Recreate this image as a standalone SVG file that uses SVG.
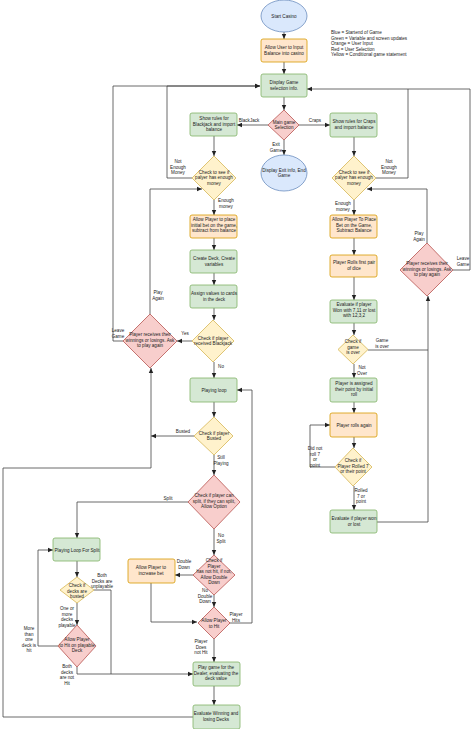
<svg xmlns="http://www.w3.org/2000/svg" width="474" height="729" viewBox="0 0 474 729">
<style>
text{font-family:"Liberation Sans",Arial,sans-serif;font-size:4.6px;fill:#222;text-anchor:middle}
.l{text-anchor:start}
.g{fill:#d5e8d4;stroke:#82b366;stroke-width:0.8}
.o{fill:#ffe6cc;stroke:#d79b00;stroke-width:0.8}
.r{fill:#f8cecc;stroke:#b85450;stroke-width:0.8}
.y{fill:#fff2cc;stroke:#d6b656;stroke-width:0.8}
.b{fill:#dae8fc;stroke:#6c8ebf;stroke-width:0.8}
.e{fill:none;stroke:#444;stroke-width:0.8;stroke-linejoin:round;marker-end:url(#a)}
.n{fill:none;stroke:#444;stroke-width:0.8;stroke-linejoin:round}
.el{fill:#fff}
</style>
<defs><marker id="a" markerWidth="6" markerHeight="6" refX="5" refY="3" orient="auto" markerUnits="userSpaceOnUse"><path d="M0,0.8 L5,3 L0,5.2z" fill="#222"/></marker></defs>
<rect width="474" height="729" fill="#fff"/>
<g id="legend"><text class="l" x="331" y="34">Blue = Startend of Game</text><text class="l" x="331" y="39.5">Green =  Variable and screen updates</text><text class="l" x="331" y="45">Orange = User Input</text><text class="l" x="331" y="50.5">Red = User Selection</text><text class="l" x="331" y="56">Yellow = Conditional game statement</text></g>
<g id="connectors">
<path class="e" d="M284,32 V39"/>
<path class="e" d="M284,62 V74"/>
<path class="e" d="M284,97 V110"/>
<path class="e" d="M268,125 H237"/>
<path class="e" d="M299,125 H330"/>
<path class="e" d="M284,140 V155"/>
<path class="e" d="M214,136 V156"/>
<path class="e" d="M354,137 V156"/>
<path class="e" d="M192,178 H167 V86 H260"/>
<path class="e" d="M376,178 H408 V89 H307"/>
<path class="e" d="M214,200 V215"/>
<path class="e" d="M354,200 V215"/>
<path class="e" d="M214,238 V250"/>
<path class="e" d="M214,273 V285"/>
<path class="e" d="M214,308 V320"/>
<path class="e" d="M192,341 H177"/>
<path class="e" d="M123,341 H113 V86 H260"/>
<path class="e" d="M150,314 V189 H202"/>
<path class="e" d="M214,362 V378"/>
<path class="e" d="M214,402 V417"/>
<path class="e" d="M194,436 H151"/>
<path class="e" d="M193,717 H3 V468 H151 V368"/>
<path class="e" d="M214,455 V475"/>
<path class="e" d="M188,502 H77 V538"/>
<path class="e" d="M214,529 V555"/>
<path class="e" d="M193,575 H175"/>
<path class="e" d="M151,583 V622 H197"/>
<path class="e" d="M214,595 V607"/>
<path class="e" d="M229,623 H252 V390 H237"/>
<path class="e" d="M214,639 V662"/>
<path class="e" d="M214,686 V705"/>
<path class="e" d="M77,561 V577"/>
<path class="e" d="M94,590 H111 V674 H193"/>
<path class="e" d="M77,603 V625"/>
<path class="e" d="M58,646 H38 V550 H53"/>
<path class="n" d="M77,667 V674 H111"/>
<path class="e" d="M354,238 V255"/>
<path class="e" d="M354,277 V300"/>
<path class="e" d="M354,323 V335"/>
<path class="e" d="M354,364 V378"/>
<path class="e" d="M354,402 V413"/>
<path class="e" d="M354,437 V448"/>
<path class="e" d="M335,467 H310 V425 H330"/>
<path class="e" d="M354,486 V510"/>
<path class="e" d="M377,522 H428 V296"/>
<path class="n" d="M368,350 H428"/>
<path class="e" d="M427,243 V189 H367"/>
<path class="n" d="M453,270 H470 V89 H408"/>
</g>
<g id="edge-labels">
<rect class="el" x="240" y="117" width="18" height="6"/><text x="249" y="122">BlackJack</text>
<rect class="el" x="308" y="117" width="14" height="6"/><text x="315" y="122">Craps</text>
<rect class="el" x="270" y="141" width="12" height="12"/><text x="276" y="146">Exit</text><text x="276" y="151.5">Game</text>
<text x="178" y="163">Not</text><text x="178" y="168.5">Enough</text><text x="178" y="174">Money</text>
<text x="389" y="163">Not</text><text x="389" y="168.5">Enough</text><text x="389" y="174">Money</text>
<text x="226" y="202">Enough</text><text x="226" y="207.5">money</text>
<text x="343" y="205">Enough</text><text x="343" y="210.5">money</text>
<text x="158" y="294">Play</text><text x="158" y="299.5">Again</text>
<text x="118" y="332">Leave</text><text x="118" y="337.5">Game</text>
<text x="185" y="335">Yes</text>
<text x="221" y="368">No</text>
<text x="183" y="433">Busted</text>
<text x="221" y="459">Still</text><text x="221" y="464.5">Playing</text>
<text x="168" y="500">Split</text>
<text x="221" y="537">No</text><text x="221" y="542.5">Split</text>
<text x="184" y="563">Double</text><text x="184" y="568.5">Down</text>
<text x="205" y="592">No</text><text x="205" y="597.5">Double</text><text x="205" y="603">Down</text>
<text x="236" y="616">Player</text><text x="236" y="621.5">Hits</text>
<text x="201" y="643">Player</text><text x="201" y="648.5">Does</text><text x="201" y="654">not Hit</text>
<text x="102" y="577">Both</text><text x="102" y="582.5">Decks are</text><text x="102" y="588">unplayable</text>
<text x="67" y="610">One or</text><text x="67" y="615.5">more</text><text x="67" y="621">decks</text><text x="67" y="626.5">playable</text>
<text x="29" y="630">More</text><text x="29" y="635.5">than</text><text x="29" y="641">one</text><text x="29" y="646.5">deck is</text><text x="29" y="652">hit</text>
<text x="67" y="668">Both</text><text x="67" y="673.5">decks</text><text x="67" y="679">are not</text><text x="67" y="684.5">Hit</text>
<text x="419" y="235">Play</text><text x="419" y="240.5">Again</text>
<text x="463" y="260">Leave</text><text x="463" y="265.5">Game</text>
<text x="382" y="342">Game</text><text x="382" y="347.5">is over</text>
<text x="362" y="369">Not</text><text x="362" y="374.5">Over</text>
<text x="315" y="450">Did not</text><text x="315" y="455.5">roll 7</text><text x="315" y="461">or</text><text x="315" y="466.5">point</text>
<text x="361" y="492">Rolled</text><text x="361" y="497.5">7 or</text><text x="361" y="503">point</text>
</g>
<g id="start"><ellipse class="b" cx="284" cy="16" rx="23" ry="16"/><text x="284" y="17.5">Start Casino</text></g>
<g id="input"><rect class="o" x="261" y="39" width="46" height="23" rx="2"/><text x="284" y="49">Allow User to Input</text><text x="284" y="54.5">Balance into casino</text></g>
<g id="display"><rect class="g" x="261" y="74" width="46" height="23" rx="2"/><text x="284" y="84">Display Game</text><text x="284" y="89.5">selection info.</text></g>
<g id="main"><path class="r" d="M284,110 L299,125 L284,140 L268,125z"/><text x="284" y="123.5">Main game</text><text x="284" y="129">Selection</text></g>
<g id="exit"><ellipse class="b" cx="284" cy="173" rx="23" ry="18"/><text x="284" y="171.5">Display Exit info, End</text><text x="284" y="177">Game</text></g>
<g id="bjrules"><rect class="g" x="190" y="113" width="47" height="23" rx="2"/><text x="214" y="120">Show rules for</text><text x="214" y="125.5">Blackjack and import</text><text x="214" y="131">balance</text></g>
<g id="crrules"><rect class="g" x="330" y="113" width="47" height="24" rx="2"/><text x="354" y="123">Show rules for Craps</text><text x="354" y="128.5">and import balance</text></g>
<g id="bjmoney"><path class="y" d="M214,156 L236,178 L214,200 L192,178z"/><text x="214" y="173.5">Check to see if</text><text x="214" y="179">palyer has enough</text><text x="214" y="184.5">money</text></g>
<g id="crmoney"><path class="y" d="M354,156 L376,178 L354,200 L332,178z"/><text x="354" y="173.5">Check to see if</text><text x="354" y="179">palyer has enough</text><text x="354" y="184.5">money</text></g>
<g id="bjbet"><rect class="o" x="190" y="215" width="47" height="23" rx="2"/><text x="214" y="221">Allow Player to place</text><text x="214" y="226.5">initial bet on the game,</text><text x="214" y="232">subtract from balance</text></g>
<g id="deck"><rect class="g" x="190" y="250" width="47" height="23" rx="2"/><text x="214" y="260">Create Deck, Create</text><text x="214" y="265.5">variables</text></g>
<g id="assign"><rect class="g" x="190" y="285" width="47" height="23" rx="2"/><text x="214" y="295">Assign values to cards</text><text x="214" y="300.5">in the deck</text></g>
<g id="bjcheck"><path class="y" d="M213,320 L234,341 L213,362 L192,341z"/><text x="213" y="339.5">Check if player</text><text x="213" y="345">received Blackjack</text></g>
<g id="bjagain"><path class="r" d="M150,314 L177,341 L150,368 L123,341z"/><text x="150" y="336">Player receives their</text><text x="150" y="341.5">winnings or losings. Ask</text><text x="150" y="347">to play again</text></g>
<g id="loop"><rect class="g" x="190" y="378" width="47" height="24" rx="2"/><text x="214" y="391.5">Playing loop</text></g>
<g id="busted"><path class="y" d="M214,417 L233,436 L214,455 L194,436z"/><text x="214" y="434.5">Check if player</text><text x="214" y="440">Busted</text></g>
<g id="split"><path class="r" d="M214,475 L240,502 L214,529 L188,502z"/><text x="214" y="497">Check if player can</text><text x="214" y="502.5">split, if they can split,</text><text x="214" y="508">Allow Option</text></g>
<g id="splitloop"><rect class="g" x="53" y="538" width="47" height="23" rx="2"/><text x="77" y="551.5">Playing Loop For Split</text></g>
<g id="dbl"><path class="r" d="M214,555 L235,575 L214,595 L193,575z"/><text x="214" y="562">Check if</text><text x="214" y="567.5">Player</text><text x="214" y="573">has not hit, if not,</text><text x="214" y="578.5">Allow Double</text><text x="214" y="584">Down</text></g>
<g id="increase"><rect class="o" x="128" y="559" width="47" height="24" rx="2"/><text x="151" y="569">Allow Player to</text><text x="151" y="574.5">increase bet</text></g>
<g id="hit"><path class="r" d="M214,607 L230,623 L214,639 L198,623z"/><text x="214" y="622">Allow Player</text><text x="214" y="627.5">to Hit</text></g>
<g id="decksbusted"><path class="y" d="M77,577 L94,590 L77,603 L60,590z"/><text x="77" y="587">Check if</text><text x="77" y="592.5">decks are</text><text x="77" y="598">busted</text></g>
<g id="hitplayable"><path class="r" d="M77,625 L96,646 L77,667 L58,646z"/><text x="77" y="641">Allow Player</text><text x="77" y="646.5">to Hit on playable</text><text x="77" y="652">Deck</text></g>
<g id="dealer"><rect class="g" x="193" y="662" width="47" height="24" rx="2"/><text x="216" y="669">Play game for the</text><text x="216" y="674.5">Dealer, evaluating the</text><text x="216" y="680">deck value</text></g>
<g id="evalbj"><rect class="g" x="193" y="705" width="47" height="24" rx="2"/><text x="216" y="715">Evaluate Winning and</text><text x="216" y="720.5">losing Decks</text></g>
<g id="crbet"><rect class="o" x="330" y="215" width="47" height="23" rx="2"/><text x="354" y="221">Allow Player To Place</text><text x="354" y="226.5">Bet on the Game,</text><text x="354" y="232">Subtract Balance</text></g>
<g id="roll1"><rect class="o" x="330" y="255" width="47" height="22" rx="2"/><text x="354" y="264">Player Rolls first pair</text><text x="354" y="269.5">of dice</text></g>
<g id="eval1"><rect class="g" x="330" y="300" width="47" height="23" rx="2"/><text x="354" y="306">Evaluate if player</text><text x="354" y="311.5">Won with 7,11 or lost</text><text x="354" y="317">with 12,3,2</text></g>
<g id="over"><path class="y" d="M353,335 L368,349.5 L353,364 L338,349.5z"/><text x="353" y="343">Check if</text><text x="353" y="348.5">game</text><text x="353" y="354">is over</text></g>
<g id="point"><rect class="g" x="330" y="378" width="47" height="24" rx="2"/><text x="354" y="385">Player is assigned</text><text x="354" y="390.5">their point by initial</text><text x="354" y="396">roll</text></g>
<g id="rollagain"><rect class="o" x="330" y="413" width="47" height="24" rx="2"/><text x="354" y="426.5">Player rolls again</text></g>
<g id="rolled7"><path class="y" d="M353,448 L372,467 L353,486 L335,467z"/><text x="353" y="462">Check if</text><text x="353" y="467.5">Player Rolled 7</text><text x="353" y="473">or their point</text></g>
<g id="evalcr"><rect class="g" x="330" y="510" width="47" height="23" rx="2"/><text x="354" y="520">Evaluate if player won</text><text x="354" y="525.5">or lost</text></g>
<g id="cragain"><path class="r" d="M427,243 L453,270 L427,296 L400,270z"/><text x="427" y="265">Player receives their</text><text x="427" y="270.5">winnings or losings. Ask</text><text x="427" y="276">to play again</text></g>
</svg>
